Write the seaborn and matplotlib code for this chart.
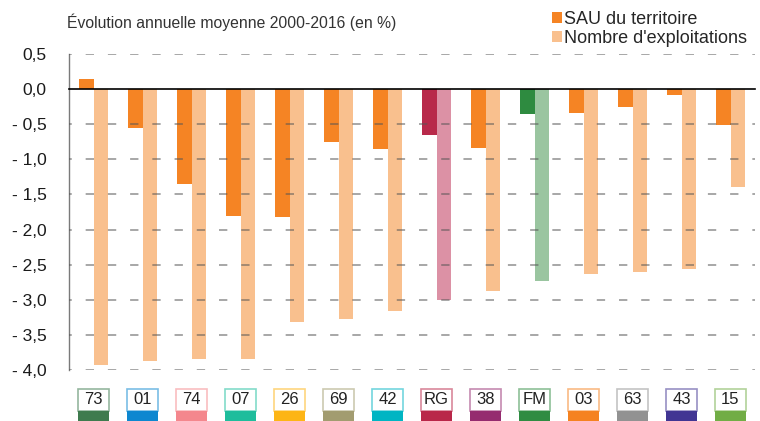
import numpy as np
import pandas as pd
import seaborn as sns
from matplotlib import pyplot as plt
from matplotlib.colors import to_rgb
from matplotlib.patches import Patch, Rectangle
from matplotlib.transforms import blended_transform_factory

codes = ['73', '01', '74', '07', '26', '69', '42', 'RG', '38', 'FM', '03', '63', '43', '15']
sau = [0.15, -0.55, -1.35, -1.80, -1.82, -0.76, -0.85, -0.65, -0.84, -0.36, -0.34, -0.25, -0.08, -0.51]
exploitations = [-3.93, -3.87, -3.84, -3.84, -3.31, -3.27, -3.16, -3.00, -2.87, -2.73, -2.64, -2.61, -2.56, -1.39]
label_colors = ['#3F7B4E', '#0D87D0', '#F4878D', '#1EBD9C', '#FDB515', '#A29C70', '#00B5C3',
                '#B92749', '#952B6F', '#2F8C42', '#F58220', '#929292', '#413593', '#71AD45']
series = ['SAU du territoire', "Nombre d'exploitations"]
series_colors = ['#F58424', '#F9C08E']
special_colors = {'RG': ['#B8294A', '#DC91A5'], 'FM': ['#2E8B40', '#9AC5A0']}
title = 'Évolution annuelle moyenne 2000-2016 (en %)'


def lighten(color, amount=0.45):
    rgb = np.array(to_rgb(color))
    return tuple(rgb + (1 - rgb) * amount)


def fmt_tick(v):
    s = f'{abs(v):.1f}'.replace('.', ',')
    return f'- {s}' if v < -1e-9 else s


sns.set_theme(style='white')
plt.rcParams['font.family'] = ['Liberation Sans', 'DejaVu Sans']
plt.rcParams['lines.scale_dashes'] = False

data = pd.DataFrame({
    'code': codes * 2,
    'serie': [series[0]] * len(codes) + [series[1]] * len(codes),
    'value': sau + exploitations,
})

fig = plt.figure(figsize=(7.6, 4.21), dpi=100)
ax = fig.add_axes([69 / 760, 1 - 370 / 421, 686 / 760, 316 / 421])

sns.barplot(data, x='code', y='value', hue='serie', hue_order=series, order=codes,
            palette=dict(zip(series, series_colors)), width=0.6, saturation=1,
            legend=False, ax=ax)

# RG and FM have their own colours
for k, container in enumerate(ax.containers):
    for code, patch in zip(codes, container.patches):
        if code in special_colors:
            patch.set_facecolor(special_colors[code][k])
        patch.set_edgecolor('none')

ax.set_xlim(-0.5, len(codes) - 0.5)
ax.set_ylim(-4, 0.5)
yticks = np.arange(-4, 0.51, 0.5)
ax.set_yticks(yticks)
ax.set_yticklabels([fmt_tick(v) for v in yticks], fontsize=12.5, color='#1a1a1a')
ax.set_xticks(np.arange(-0.5, len(codes), 1))
ax.set_xticklabels([])
ax.set_xlabel('')
ax.set_ylabel('')

for y in yticks:
    if abs(y) > 1e-9:
        ax.axhline(y, color='#555555', alpha=0.6, lw=1.2, ls=(4, (6, 10)), zorder=3)

ax.spines['top'].set_visible(False)
ax.spines['right'].set_visible(False)
ax.spines['bottom'].set_position(('data', 0))
ax.spines['bottom'].set_color('black')
ax.spines['bottom'].set_linewidth(1.2)
ax.spines['bottom'].set_zorder(4)
ax.spines['left'].set_color('#7a7a7a')
ax.spines['left'].set_linewidth(1)
ax.tick_params(axis='y', direction='inout', length=6, width=1, color='#555555', pad=13)
ax.tick_params(axis='x', direction='out', length=3, width=1, color='black')

# category boxes under the plot
trans = blended_transform_factory(ax.transData, fig.transFigure)
top, mid = 1 - 389 / 421, 1 - 411 / 421
for i, (code, color) in enumerate(zip(codes, label_colors)):
    ax.add_patch(Rectangle((i - 0.31, mid), 0.62, top - mid, facecolor='white',
                           edgecolor=lighten(color), lw=1.2, transform=trans, clip_on=False))
    ax.add_patch(Rectangle((i - 0.31, 0), 0.62, mid, facecolor=color, edgecolor='none',
                           transform=trans, clip_on=False))
    ax.text(i, (top + mid) / 2, code, transform=trans, ha='center', va='center',
            fontsize=12, color='#222222')

fig.text(67 / 760, 1 - 22 / 421, title, ha='left', va='center', fontsize=11.3, color='#333333')

handles = [Patch(facecolor=c, edgecolor='none') for c in series_colors]
fig.legend(handles, series, loc='upper left', bbox_to_anchor=(552 / 760, 1 - 11 / 421),
           frameon=False, fontsize=13, handlelength=0.55, handleheight=0.55,
           handletextpad=0.1, labelspacing=0.12, borderaxespad=0, borderpad=0)

fig.savefig('out.png', dpi=100)
